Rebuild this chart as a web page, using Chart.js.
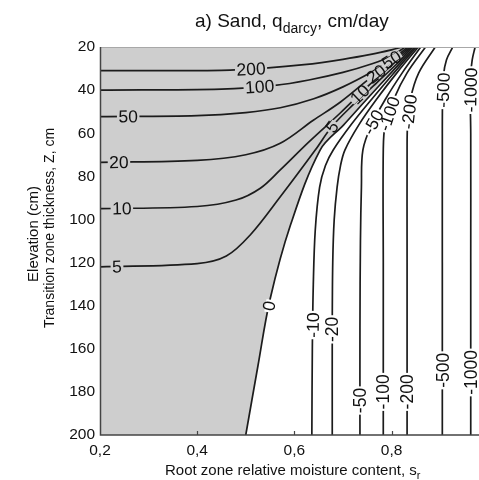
<!DOCTYPE html>
<html><head><meta charset="utf-8">
<script src="https://cdn.jsdelivr.net/npm/chart.js@4.4.0/dist/chart.umd.min.js"></script>
<style>
html,body{margin:0;padding:0;background:#fff;overflow:hidden;}
#wrap{position:relative;width:479px;height:480px;}
canvas{position:absolute;left:0;top:0;}
.t{position:absolute;white-space:nowrap;font-family:"Liberation Sans",Arial,sans-serif;color:#111;line-height:1;}
</style></head><body>
<div id="wrap">
<canvas id="c" width="479" height="480"></canvas>
<div class="t" style="left:195px;top:11px;font-size:19px;">a) Sand, q<span style="font-size:14px;position:relative;top:6px;">darcy</span>, cm/day</div>
<div class="t" style="left:165px;top:462px;font-size:15px;">Root zone relative moisture content, s<span style="font-size:11px;position:relative;top:4px;">r</span></div>
<div class="t" style="left:32px;top:234px;font-size:15px;transform:translate(-50%,-50%) rotate(-90deg);">Elevation (cm)</div>
<div class="t" style="left:49px;top:228px;font-size:14px;transform:translate(-50%,-50%) rotate(-90deg);">Transition zone thickness, Z, cm</div>
</div>
<script>
// ---- data (s_r, Z) ----
const xTicks = [0.2, 0.4, 0.6, 0.8];
const yTicks = [20, 40, 60, 80, 100, 120, 140, 160, 180, 200];
const contourValues = [200, 100, 50, 20, 10, 5, 0, -10, -20, -50, -100, -200, -500, -1000];

const q200 = [[0.2,31],[0.45,30.8],[0.54,29.8],[0.62,28.2],[0.7,25.7],[0.76,23.3],[0.8,21.3],[0.822,20]];
const q100 = [[0.2,40],[0.45,39.5],[0.56,37.8],[0.63,35.3],[0.7,31.8],[0.76,27.8],[0.8,24.2],[0.828,20]];
const q50  = [[0.2,52.3],[0.4,51.8],[0.5,50.4],[0.571,48.2],[0.64,44],[0.7,38.5],[0.76,31.5],[0.8,25.8],[0.834,20]];
const q20  = [[0.2,73.5],[0.4,72.6],[0.5,70],[0.571,64.7],[0.639,54],[0.695,45.5],[0.75,35.5],[0.8,27],[0.838,20]];
const q10  = [[0.2,95],[0.4,94],[0.48,91],[0.53,85.5],[0.571,77],[0.63,64],[0.695,50.5],[0.75,38.5],[0.8,28.5],[0.841,20]];
const q5   = [[0.2,122],[0.4,120.5],[0.46,117],[0.51,107],[0.571,89.5],[0.643,67.8],[0.677,57],[0.72,47],[0.77,36.5],[0.81,28],[0.844,20]];
const q0   = [[0.5,200],[0.525,168],[0.55,137],[0.592,102.6],[0.653,67.8],[0.702,56],[0.75,44],[0.799,32],[0.848,20]];
const qm10 = [[0.636,200],[0.637,160],[0.639,130],[0.643,105],[0.652,85],[0.664,75],[0.68,67.8],[0.717,56],[0.76,44],[0.805,32],[0.851,20]];
const qm20 = [[0.678,200],[0.678,150],[0.679,120],[0.682,100],[0.688,85],[0.695,75],[0.704,67.8],[0.733,56],[0.77,44],[0.811,32],[0.855,20]];
const qm50 = [[0.735,200],[0.735,150],[0.736,110],[0.738,85],[0.741,67.8],[0.759,56],[0.788,44],[0.822,32],[0.86,20]];
const qm100 = [[0.783,200],[0.783,120],[0.783,67.8],[0.787,56],[0.805,44],[0.832,32],[0.87,20]];
const qm200 = [[0.832,200],[0.832,120],[0.832,67.8],[0.833,56],[0.839,44],[0.856,32],[0.89,20]];
const qm500 = [[0.9045,200],[0.9045,120],[0.9045,60],[0.905,44],[0.907,33],[0.913,26],[0.926,20]];
const qm1000 = [[0.963,200],[0.963,120],[0.963,60],[0.962,44],[0.963,33],[0.966,26],[0.972,20]];
const contourPoints = [q200, q100, q50, q20, q10, q5, q0, qm10, qm20, qm50, qm100, qm200, qm500, qm1000];

// gray region (q > 0 side): bounded by the 0 contour and the plot frame
const grayCorners = [[0.2,20],[0.2,200]];

// contour labels: text, contour value, approximate (s, Z) along the line
const labelSpots = [
  ['200',200,0.511,31], ['100',100,0.529,40], ['50',50,0.258,52], ['20',20,0.239,73],
  ['10',10,0.245,95], ['5',5,0.235,122],
  ['5',5,0.677,57], ['10',10,0.735,42], ['20',20,0.77,33], ['50',50,0.8,26],
  ['0',0,0.546,140],
  ['-10',-10,0.638,149], ['-20',-20,0.678,151], ['-50',-50,0.735,184], ['-100',-100,0.783,180],
  ['-200',-200,0.832,180], ['-500',-500,0.9045,170], ['-1000',-1000,0.963,171],
  ['-50',-50,0.755,54], ['-100',-100,0.795,51], ['-200',-200,0.834,50], ['-500',-500,0.905,40], ['-1000',-1000,0.962,40]
];

const toXY = a => a.map(p => ({x: p[0], y: p[1]}));
const LINE = '#1c1c1c';
const GRAY = '#cecece';

const datasets = contourPoints.map((pts, i) => ({
  label: String(contourValues[i]),
  data: toXY(pts),
  showLine: true, fill: false,
  borderColor: LINE, borderWidth: 1.7,
  pointRadius: 0, pointHoverRadius: 0, tension: 0.35
}));
datasets.push({
  label: 'q > 0 region',
  data: toXY(q0.concat(grayCorners)),
  showLine: true, fill: 'shape',
  backgroundColor: GRAY, borderWidth: 0, borderColor: 'rgba(0,0,0,0)',
  pointRadius: 0, tension: 0.35
});

const FONT = '"Liberation Sans", Arial, sans-serif';

const framePlugin = {
  id: 'frameAndLabels',
  afterDatasetsDraw(chart) {
    const {ctx, chartArea: a, scales: {x: xs, y: ys}} = chart;
    ctx.save();
    // frame
    ctx.strokeStyle = '#a8a8a8'; ctx.lineWidth = 1;
    ctx.beginPath(); ctx.moveTo(a.left, a.top + 0.5); ctx.lineTo(a.right, a.top + 0.5); ctx.stroke();
    ctx.strokeStyle = '#444'; ctx.lineWidth = 1.5;
    ctx.beginPath(); ctx.moveTo(a.left + 0.5, a.top); ctx.lineTo(a.left + 0.5, a.bottom); ctx.lineTo(a.right, a.bottom); ctx.stroke();
    // small inward ticks on x axis
    ctx.lineWidth = 1.2;
    xTicks.slice(1).forEach(v => {
      const px = Math.round(xs.getPixelForValue(v)) + 0.5;
      ctx.beginPath(); ctx.moveTo(px, a.bottom); ctx.lineTo(px, a.bottom - 4); ctx.stroke();
    });
    // contour labels
    ctx.beginPath(); ctx.rect(a.left, a.top, a.right - a.left, a.bottom - a.top); ctx.clip();
    ctx.font = '17.5px ' + FONT;
    ctx.textAlign = 'center'; ctx.textBaseline = 'alphabetic';
    labelSpots.forEach(([txt, val, s, z]) => {
      const di = contourValues.indexOf(val);
      const pts = chart.getDatasetMeta(di).data.map(p => ({x: p.x, y: p.y}));
      const tx = xs.getPixelForValue(s), ty = ys.getPixelForValue(z);
      let best = null;
      for (let k = 0; k < pts.length - 1; k++) {
        const p = pts[k], q = pts[k + 1];
        const dx = q.x - p.x, dy = q.y - p.y;
        const L2 = dx * dx + dy * dy || 1;
        let t = ((tx - p.x) * dx + (ty - p.y) * dy) / L2;
        t = Math.max(0, Math.min(1, t));
        const cx = p.x + t * dx, cy = p.y + t * dy;
        const d = (cx - tx) ** 2 + (cy - ty) ** 2;
        if (!best || d < best.d) best = {d, x: cx, y: cy, ang: Math.atan2(dy, dx)};
      }
      let ang = best.ang;
      if (ang <= -Math.PI * 0.6) ang += Math.PI;
      if (ang > Math.PI * 0.4) ang -= Math.PI;
      const w = ctx.measureText(txt).width;
      ctx.save();
      ctx.translate(best.x, best.y); ctx.rotate(ang);
      ctx.fillStyle = val > 0 ? GRAY : '#ffffff';
      ctx.fillRect(-w / 2 - 1.5, -3.5, w + 3, 7);
      ctx.fillStyle = '#111';
      ctx.fillText(txt, 0, 6.2);
      ctx.restore();
    });
    ctx.restore();
  }
};

new Chart(document.getElementById('c'), {
  type: 'scatter',
  data: {datasets},
  options: {
    responsive: false, animation: false, events: [],
    layout: {padding: {top: 47, left: 0, right: 0, bottom: 0}},
    plugins: {legend: {display: false}, tooltip: {enabled: false}, title: {display: false}},
    scales: {
      x: {
        type: 'linear', min: 0.2, max: 0.98,
        grid: {display: false, drawTicks: false}, border: {display: false},
        afterBuildTicks: s => { s.ticks = xTicks.map(v => ({value: v})); },
        afterFit: s => { s.height = 45; },
        ticks: {padding: 6, color: '#111', font: {family: FONT, size: 15.5},
          callback: v => v.toFixed(1).replace('.', ',')}
      },
      y: {
        type: 'linear', min: 20, max: 200, reverse: true,
        grid: {display: false, drawTicks: false}, border: {display: false},
        afterBuildTicks: s => { s.ticks = yTicks.map(v => ({value: v})); },
        afterFit: s => { s.width = 100; },
        ticks: {padding: 5, color: '#111', font: {family: FONT, size: 15.5}}
      }
    }
  },
  plugins: [framePlugin]
});
</script>
</body></html>
